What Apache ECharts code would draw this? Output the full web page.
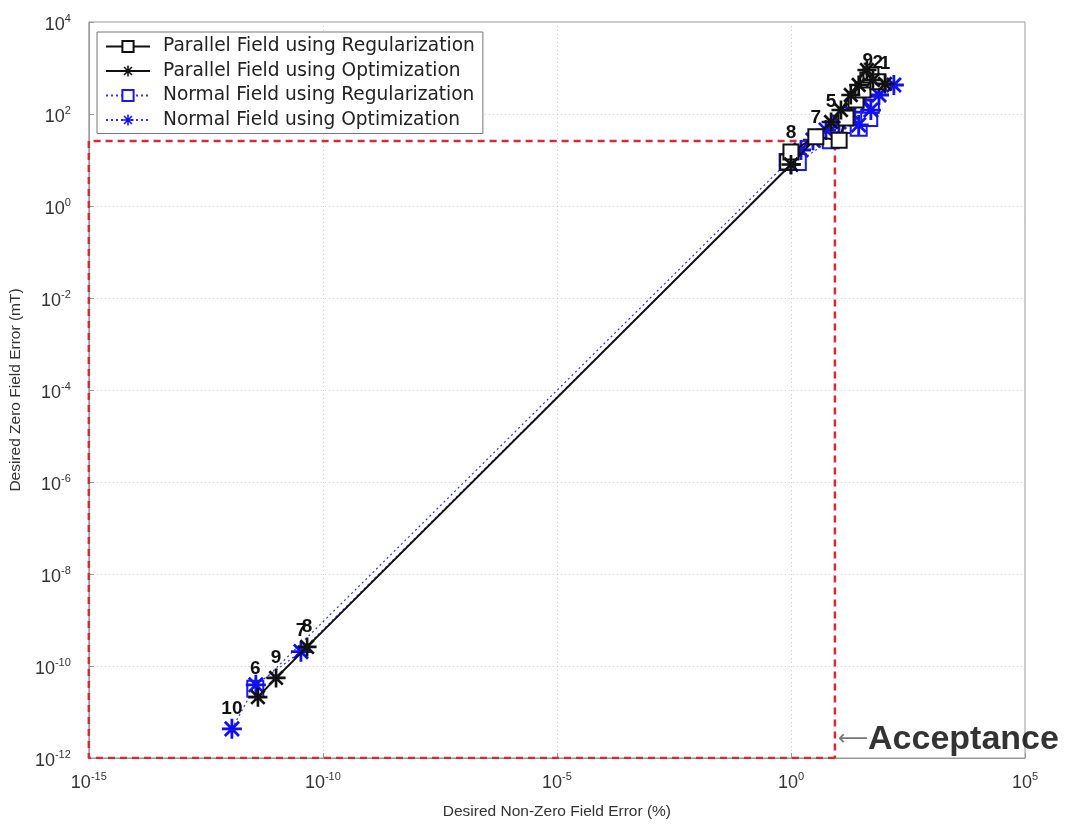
<!DOCTYPE html>
<html><head><meta charset="utf-8">
<script src="https://cdn.jsdelivr.net/npm/echarts@6/dist/echarts.min.js"></script>
<style>html,body{margin:0;padding:0;background:#fff}#c{width:1066px;height:827px}</style>
</head><body><div id="c"></div>
<script>
// ---- data ----
const seriesNames = ['Parallel Field using Regularization','Parallel Field using Optimization','Normal Field using Regularization','Normal Field using Optimization'];
const parRegX = [0.85, 1.0, 3.4, 10.7, 15, 24.5, 34.5, 44, 51, 72];
const parRegY = [9, 15, 32, 27, 82, 201, 332, 550, 705, 500];
const parRegL = ['', '8', '7', '', '', '', '', '9', '', '2'];
const parOptX = [4.1e-12, 1.0e-11, 4.6e-11, 1.0, 7.2, 11.7, 19, 28, 42, 56.5, 102];
const parOptY = [2.1e-11, 5.5e-11, 2.6e-10, 8, 67, 122, 259, 427, 905, 548, 450];
const parOptL = ['', '9', '8', '', '5', '', '', '', '', '', '1'];
const normRegX = [3.6e-12, 0.85, 1.4, 7.1, 19, 28, 35, 47, 51];
const normRegY = [3.2e-11, 9, 9, 27, 58, 50, 95, 82, 158];
const normRegL = ['6', '', '', '', '', '', '', '', ''];
const normOptX = [1.14e-12, 3.7e-12, 3.4e-11, 1.0, 1.64, 2.95, 5.6, 10.6, 19, 28, 34.5, 51, 76, 158];
const normOptY = [4.3e-12, 3.9e-11, 2.05e-10, 8, 16.5, 27, 45, 67, 110, 58, 201, 122, 259, 427];
const normOptL = ['10', '', '7', '', '', '', '', '', '', '', '', '', '', ''];
// acceptance region (x limit %, y limit mT)
const acceptX = 8.7;
const acceptY = 26;
const xMin = 1e-15, xMax = 1e5, yMin = 1e-12, yMax = 1e4;

// ---- helpers ----
function zip(xs, ys){ return xs.map((x,i)=>[x, ys[i]]); }
function asterisk(){
  const w = 0.28; let p = '';
  for (let k=0;k<4;k++){
    const t = k*Math.PI/4, dx=Math.cos(t), dy=Math.sin(t), nx=-dy, ny=dx;
    const pts = [[dx+nx*w/2, dy+ny*w/2],[-dx+nx*w/2,-dy+ny*w/2],[-dx-nx*w/2,-dy-ny*w/2],[dx-nx*w/2,dy-ny*w/2]];
    p += 'M' + pts.map(q=>((q[0]+1.2)*10).toFixed(2)+' '+((q[1]+1.2)*10).toFixed(2)).join(' L') + ' Z ';
  }
  return 'path://' + p;
}
const STAR = asterisk();
const FONT = 'Arial, "Liberation Sans", sans-serif';
function expLabel(v){ const e = Math.round(Math.log10(v)); return '{b|10}{s|' + e + '}'; }
const axisRich = { b:{fontSize:18, color:'#333', fontFamily:FONT, verticalAlign:'bottom', lineHeight:24}, s:{fontSize:11, color:'#333', fontFamily:FONT, verticalAlign:'bottom', lineHeight:24, padding:[0,0,10,0]} };
function ptLabel(arr){ return {show:true, position:'top', distance:1, color:'#111', fontSize:19, fontWeight:'bold', fontFamily:FONT, formatter:p=>arr[p.dataIndex]}; }

const chart = echarts.init(document.getElementById('c'), null, {renderer:'canvas'});
chart.setOption({
  animation:false,
  backgroundColor:'#fff',
  grid:{left:88, right:41, top:22, bottom:69, show:true, borderColor:'#999', borderWidth:1, backgroundColor:'transparent'},
  legend:{
    data:seriesNames, orient:'vertical', left:97, top:32, itemWidth:44, itemHeight:14, itemGap:5.5,
    padding:[5,8,4,8], borderColor:'#777', borderWidth:1, backgroundColor:'#fff',
    textStyle:{fontSize:18.6, lineHeight:16, color:'#222', fontFamily:'"DejaVu Sans", sans-serif', padding:[0,0,0,8]}
  },
  xAxis:{
    type:'log', logBase:10, min:xMin, max:xMax, interval:5,
    name:'Desired Non-Zero Field Error (%)', nameLocation:'middle', nameGap:46,
    nameTextStyle:{fontSize:15.5, color:'#333', fontFamily:FONT},
    axisLine:{show:true, lineStyle:{color:'#999'}},
    axisTick:{show:true, inside:true, length:5, lineStyle:{color:'#999'}},
    minorTick:{show:false},
    splitLine:{show:true, lineStyle:{color:'#cfcfcf', type:[1,3]}},
    axisLabel:{formatter:expLabel, rich:axisRich, margin:10}
  },
  yAxis:{
    type:'log', logBase:10, min:yMin, max:yMax, interval:2,
    name:'Desired Zero Field Error (mT)', nameLocation:'middle', nameGap:63,
    nameTextStyle:{fontSize:15.5, color:'#333', fontFamily:FONT},
    axisLine:{show:true, lineStyle:{color:'#999'}},
    axisTick:{show:true, inside:true, length:5, lineStyle:{color:'#999'}},
    minorTick:{show:false},
    splitLine:{show:true, lineStyle:{color:'#cfcfcf', type:[1,3]}},
    axisLabel:{formatter:expLabel, rich:axisRich, margin:18}
  },
  series:[
    { name:'acceptance', type:'line', silent:true, symbol:'none', z:1,
      data:[[acceptX, yMin],[xMin, yMin],[xMin, acceptY],[acceptX, acceptY],[acceptX, yMin]],
      lineStyle:{color:'#d42a35', width:2.5, type:[7,5]} },
    { name:'acceptanceNote', type:'scatter', silent:true, symbolSize:0, z:1,
      data:[[acceptX, yMin]],
      label:{show:true, position:'right', distance:3, offset:[0,-18],
        formatter:'{a|⟵}{t|Acceptance}',
        rich:{a:{fontSize:21, color:'#555', fontFamily:'"DejaVu Sans", sans-serif'}, t:{fontSize:34, fontWeight:'bold', color:'#000', fontFamily:FONT}}} },
    { name:seriesNames[2], type:'line', data:zip(normRegX, normRegY), symbol:'emptyRect', symbolSize:16, z:3,
      itemStyle:{color:'#1a1ae6', borderWidth:3}, lineStyle:{color:'#3333ee', width:1.2, type:[2,3]}, label:ptLabel(normRegL) },
    { name:seriesNames[3], type:'line', data:zip(normOptX, normOptY), symbol:STAR, symbolSize:20, z:3,
      itemStyle:{color:'#1010f0'}, lineStyle:{color:'#3333ee', width:1.2, type:[2,3]}, label:ptLabel(normOptL) },
    { name:seriesNames[0], type:'line', data:zip(parRegX, parRegY), symbol:'emptyRect', symbolSize:15, z:4,
      itemStyle:{color:'#111', borderWidth:3}, lineStyle:{color:'#111', width:2}, label:ptLabel(parRegL) },
    { name:seriesNames[1], type:'line', data:zip(parOptX, parOptY), symbol:STAR, symbolSize:19, z:4,
      itemStyle:{color:'#111'}, lineStyle:{color:'#111', width:2}, label:ptLabel(parOptL) }
  ]
});
</script></body></html>
